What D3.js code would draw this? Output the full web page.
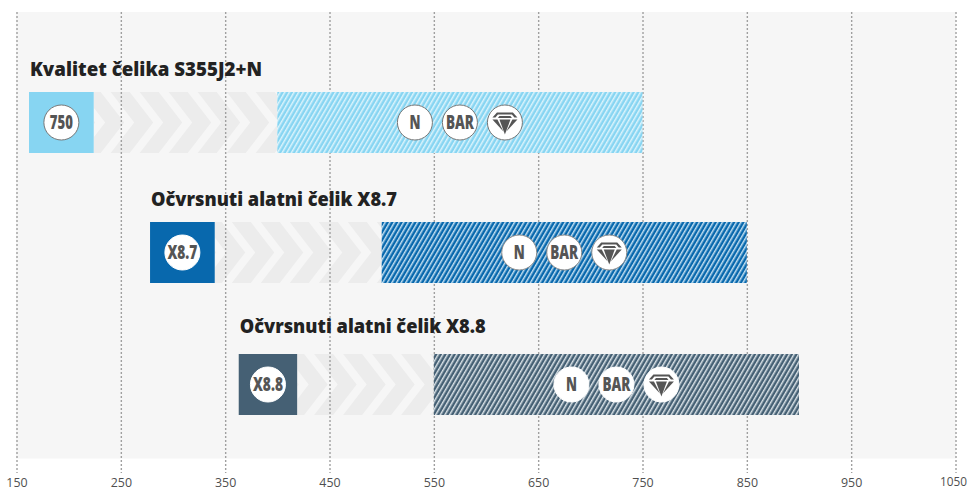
<!DOCTYPE html>
<html><head><meta charset="utf-8">
<script src="https://cdnjs.cloudflare.com/ajax/libs/d3/7.8.5/d3.min.js"></script>
<style>html,body{margin:0;padding:0;background:#fff}svg{display:block}</style>
</head><body><svg id="c" width="970" height="490"></svg>
<script>
const titles = ["Kvalitet čelika S355J2+N","Očvrsnuti alatni čelik X8.7","Očvrsnuti alatni čelik X8.8"];
const badgeLabels = ["750","X8.7","X8.8"];
const solidStart = [162,278,363];
const solidEnd = [224,340,419];
const hatchStart = [400,500,550];
const hatchEnd = [750,850,900];
const colors = ["#87d5f2","#0868ad","#456074"];
const stripeColors = ["#dcf4fc","#c4e0f2","#dbe3e8"];
const tickValues = [150,250,350,450,550,650,750,850,950,1050];
const markers = ["N","BAR","gem"];

const svg = d3.select("#c");
const x = d3.scaleLinear().domain([150,1050]).range([16.5,955.5]);
const rowTop = d3.scaleOrdinal().domain(titles).range([92,222,354]);
const titleY = d3.scaleOrdinal().domain(titles).range([76,206,333]);
const barH = 61;

const defs = svg.append("defs");
colors.forEach((c,i)=>{
  const p = defs.append("pattern").attr("id","h"+i).attr("patternUnits","userSpaceOnUse")
    .attr("width",4).attr("height",4).attr("patternTransform","rotate(30)");
  p.append("rect").attr("width",4).attr("height",4).attr("fill",c);
  p.append("rect").attr("width",1.5).attr("height",4).attr("fill",stripeColors[i]);
});

svg.append("rect").attr("x",16).attr("y",12).attr("width",940).attr("height",446.5).attr("fill","#f6f6f6");

// chevron band
const period = 29, slant = 23.5, gap = 10;
titles.forEach((t,i)=>{
  const y0 = rowTop(t), ym = y0+barH/2, y1 = y0+barH;
  const x0 = x(solidEnd[i]), x1 = x(hatchStart[i]);
  const clip = defs.append("clipPath").attr("id","cl"+i);
  clip.append("rect").attr("x",x0).attr("y",y0).attr("width",x1-x0).attr("height",barH);
  const g = svg.append("g").attr("clip-path",`url(#cl${i})`);
  g.append("rect").attr("x",x0).attr("y",y0).attr("width",x1-x0).attr("height",barH).attr("fill","#ececec");
  d3.range(-1,Math.ceil((x1-x0)/period)+1).forEach(k=>{
    const a = x0+7+k*period;
    g.append("path").attr("d",`M${a},${y0}L${a+gap},${y0}L${a+gap+slant},${ym}L${a+gap},${y1}L${a},${y1}L${a+slant},${ym}Z`).attr("fill","#f6f6f6");
  });
});

// axis + grid
const axis = d3.axisBottom(x).tickValues(tickValues).tickSize(461).tickPadding(4).tickFormat(d3.format("d"));
const gAxis = svg.append("g").attr("transform","translate(0,12)").call(axis);
gAxis.select(".domain").remove();
gAxis.selectAll("line").attr("stroke","#a0a0a0").attr("stroke-width",1.4).attr("stroke-dasharray","2 2");
gAxis.selectAll("text").attr("font-family","'Open Sans'").attr("font-size",d=>String(d).length===4?13:13.5).attr("fill","#4f4f4f")
  .attr("x",d=>String(d).length===4?-2.5:0)
  .attr("textLength",d=>String(d).length===4?27:21.3).attr("lengthAdjust","spacingAndGlyphs");

// bars
const rows = svg.append("g").selectAll("g").data(titles).join("g");
rows.append("rect").attr("x",(d,i)=>x(solidStart[i])).attr("y",d=>rowTop(d))
  .attr("width",(d,i)=>x(solidEnd[i])-x(solidStart[i])).attr("height",barH).attr("fill",(d,i)=>colors[i]);
rows.append("rect").attr("x",(d,i)=>x(hatchStart[i])).attr("y",d=>rowTop(d))
  .attr("width",(d,i)=>x(hatchEnd[i])-x(hatchStart[i])).attr("height",barH).attr("fill",(d,i)=>`url(#h${i})`);

// titles
const titleWidths = [232,246,246];
rows.append("text").text(d=>d).attr("x",(d,i)=>x(solidStart[i])+1).attr("y",d=>titleY(d))
  .attr("font-family","'Open Sans'").attr("font-weight",800).attr("font-size",20).attr("fill","#222")
  .attr("textLength",(d,i)=>titleWidths[i]).attr("lengthAdjust","spacingAndGlyphs");

function circle(g,cx,cy,stroke){
  return g.append("circle").attr("cx",cx).attr("cy",cy).attr("r",17.5).attr("fill","#fff").attr("stroke",stroke).attr("stroke-width",1);
}
function label(g,cx,cy,s,w,fs){
  g.append("text").text(s).attr("x",cx).attr("y",cy+fs*0.36).attr("text-anchor","middle")
   .attr("font-family","'Open Sans'").attr("font-weight",800).attr("font-size",fs)
   .attr("fill","#555")
   .attr("textLength",w).attr("lengthAdjust","spacingAndGlyphs");
}
const strokes = ["#777","#8a8a8a","#fff"];
rows.each(function(d,i){
  const g = d3.select(this), cy = rowTop(d)+barH/2;
  const sx = (x(solidStart[i])+x(solidEnd[i]))/2;
  circle(g,sx,cy,i===0?"#777":"#fff");
  label(g,sx,cy,badgeLabels[i],i===0?23:30,19);
  const mid = (x(hatchStart[i])+x(hatchEnd[i]))/2;
  markers.forEach((m,k)=>{
    const cx = mid+(k-1)*45;
    circle(g,cx,cy,strokes[i]);
    if(m==="gem"){
      const gg = g.append("g").attr("transform",`translate(${cx},${cy})`).attr("fill","#555");
      gg.append("path").attr("d","M-8,-10L8,-10L12.5,-5L9.5,-5L7,-8L-7,-8L-9.5,-5L-12.5,-5Z");
      gg.append("path").attr("d","M-5.5,-6.5L5.5,-6.5L7,-4.4L-7,-4.4Z");
      gg.append("path").attr("d","M-12.5,-3L-7.5,-3L-1.5,9Z");
      gg.append("path").attr("d","M12.5,-3L7.5,-3L1.5,9Z");
      gg.append("path").attr("d","M-5.5,-3L5.5,-3L0,12Z");
    } else label(g,cx,cy,m,m==="N"?11:28,19);
  });
});
</script></body></html>
